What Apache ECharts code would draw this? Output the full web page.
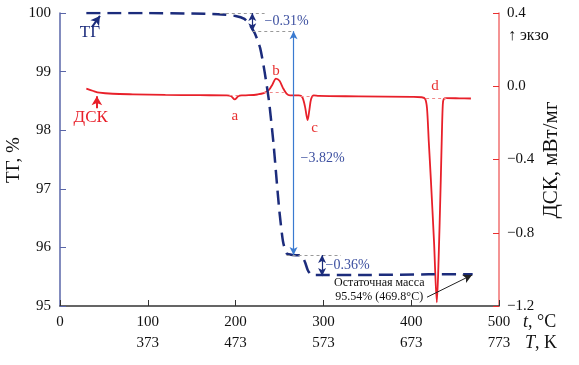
<!DOCTYPE html>
<html><head><meta charset="utf-8">
<script src="https://cdn.jsdelivr.net/npm/echarts@6/dist/echarts.min.js"></script>
<style>html,body{margin:0;padding:0;background:#fff}#c{width:579px;height:365px}</style>
</head><body><div id="c"></div>
<script>
// Temperature axis ticks (°C) and Kelvin equivalents
const xTicks = [0, 100, 200, 300, 400, 500];
const kTicks = [273, 373, 473, 573, 673, 773];
// TG curve (t °C, mass %)
const tgT = [30, 60, 100, 150, 180, 200, 210, 216, 222, 228, 233, 238, 243, 247, 250, 254, 258, 265, 275, 279, 282, 285, 290, 350, 420, 470];
const tgV = [100, 100, 100, 99.99, 99.98, 99.95, 99.9, 99.8, 99.65, 99.4, 99.0, 98.5, 97.8, 97.1, 96.6, 96.1, 95.9, 95.87, 95.86, 95.75, 95.62, 95.55, 95.53, 95.53, 95.54, 95.54];
// DSC curve (t °C, mW/mg)
const dscT = [30, 38, 45, 60, 83, 120, 159, 190, 195, 199, 203, 207, 215, 225, 232, 238, 242, 246, 250, 254, 258, 262, 268, 272, 276, 279, 282, 284, 286, 289, 295, 340, 401, 412, 416, 418, 420, 422.4, 426, 429.2, 431, 433.7, 435, 436, 437, 440, 455, 468];
const dscV = [-0.013, -0.026, -0.035, -0.041, -0.044, -0.047, -0.049, -0.05, -0.055, -0.072, -0.055, -0.05, -0.049, -0.045, -0.038, -0.02, 0.01, 0.042, 0.03, -0.01, -0.04, -0.05, -0.05, -0.05, -0.06, -0.11, -0.185, -0.13, -0.07, -0.05, -0.053, -0.055, -0.058, -0.06, -0.07, -0.12, -0.3, -0.51, -0.85, -1.18, -0.98, -0.51, -0.25, -0.1, -0.07, -0.065, -0.066, -0.067];
// Step annotations
const step1 = {t: 219, from: 100, to: 99.69, label: '−0.31%'};
const step2 = {t: 266, from: 99.69, to: 95.87, label: '−3.82%'};
const step3 = {t: 298.5, from: 95.87, to: 95.51, label: '−0.36%'};
const peakLabels = ['a', 'b', 'c', 'd'];
const peakPos = [[199, -0.165], [246, 0.085], [290, -0.23], [427, 0.0]];
const residual = ['Остаточная масса', '95.54% (469.8°C)'];

const NAVY = '#1c2c7c', RED = '#e8202a', SERIF = 'Liberation Serif';
const chart = echarts.init(document.getElementById('c'));
const zip = (a, b) => a.map((v, i) => [v, b[i]]);
const seg = (a, b) => [{coord: a}, {coord: b}];
const mlSeries = (yIdx, color, width, type, symbol, data, size) => ({type: 'line', yAxisIndex: yIdx, data: [],
  markLine: {silent: true, animation: false, label: {show: false}, symbol, symbolSize: size || [6, 8],
    lineStyle: {color, width, type}, data}});

chart.setOption({
  animation: false,
  grid: {left: 60, right: 80, top: 13, bottom: 59, containLabel: false},
  xAxis: {type: 'value', min: 0, max: 500, interval: 100,
    axisLine: {onZero: false, lineStyle: {color: '#333', width: 1.5}},
    axisTick: {inside: true, length: 6, lineStyle: {color: '#333'}},
    splitLine: {show: false},
    axisLabel: {fontFamily: SERIF, fontSize: 15, color: '#111', lineHeight: 21, margin: 6,
      formatter: v => { const i = xTicks.indexOf(v); return v === 0 ? '0\n ' : v + '\n' + kTicks[i]; }}
  },
  yAxis: [
    {type: 'value', min: 95, max: 100, interval: 1, position: 'left',
      axisLine: {show: true, onZero: false, lineStyle: {color: '#5a66a8', width: 1.5}},
      axisTick: {show: true, inside: true, length: 6, lineStyle: {color: '#5a66a8'}},
      splitLine: {show: false},
      axisLabel: {fontFamily: SERIF, fontSize: 15, color: '#111', margin: 9}},
    {type: 'value', min: -1.2, max: 0.4, interval: 0.4, position: 'right',
      axisLine: {show: true, onZero: false, lineStyle: {color: '#f07070', width: 1.5}},
      axisTick: {show: true, inside: true, length: 6, lineStyle: {color: '#e83030'}},
      splitLine: {show: false},
      axisLabel: {fontFamily: SERIF, fontSize: 15, color: '#111', margin: 8,
        formatter: v => Math.abs(v) < 1e-9 ? '0.0' : (v < 0 ? '−' : '') + Math.abs(v).toFixed(1)}}
  ],
  series: [
    {type: 'line', yAxisIndex: 1, data: zip(dscT, dscV), smooth: 0.3, symbol: 'none',
      lineStyle: {color: RED, width: 1.8}, z: 3},
    {type: 'line', yAxisIndex: 0, data: zip(tgT, tgV), smooth: 0.2, symbol: 'none',
      lineStyle: {color: NAVY, width: 2.5, type: [14, 7]}, z: 4},
    mlSeries(1, '#f08888', 1, [3, 3], 'none', [
      seg([193, -0.05], [205, -0.05]), seg([232, -0.031], [255, -0.031]),
      seg([274, -0.053], [288, -0.053]), seg([417, -0.067], [440, -0.067])]),
    mlSeries(0, '#999', 1, [3, 3], 'none', [
      seg([182, 100], [233, 100]), seg([219, 99.69], [266, 99.69]), seg([258, 95.87], [320, 95.87])]),
    mlSeries(0, '#3a7ad0', 1.2, 'solid', ['arrow', 'arrow'], [seg([step2.t, step2.from], [step2.t, step2.to])]),
    mlSeries(0, NAVY, 1.2, 'solid', ['arrow', 'arrow'], [
      seg([step1.t, step1.from], [step1.t, step1.to]), seg([step3.t, step3.from], [step3.t, step3.to])]),
    mlSeries(0, NAVY, 2, 'solid', ['none', 'arrow'], [seg([36.4, 99.76], [45.5, 99.95])], [8, 9]),
    mlSeries(0, '#222', 1, 'solid', ['none', 'arrow'], [seg([418, 95.15], [469.3, 95.53])], [7, 9]),
    mlSeries(1, RED, 2, 'solid', ['none', 'arrow'], [seg([42, -0.12], [42, -0.055])], [8, 9])
  ]
});

const P = (t, v, ax) => chart.convertToPixel(ax === 1 ? {xAxisIndex: 0, yAxisIndex: 1} : {xAxisIndex: 0, yAxisIndex: 0}, [t, v]);
const txt = (pos, text, o) => Object.assign({type: 'text', x: pos[0], y: pos[1],
  style: Object.assign({text, fontFamily: SERIF, fontSize: 14, fill: '#111', align: 'center', verticalAlign: 'middle'}, o || {})});
const g = [];
peakLabels.forEach((l, i) => g.push(txt(P(peakPos[i][0], peakPos[i][1], 1), l, {fill: '#e83030', fontSize: 15})));
g.push(txt(P(233, 99.85, 0), step1.label, {fill: '#3d50a0', fontSize: 14, align: 'left'}));
g.push(txt(P(step2.t + 8, 97.52, 0), step2.label, {fill: '#3d50a0', fontSize: 14, align: 'left'}));
g.push(txt(P(step3.t + 4, 95.69, 0), step3.label, {fill: '#3d50a0', fontSize: 14, align: 'left'}));
g.push(txt(P(363.6, 95.39, 0), residual[0], {fontSize: 12}));
g.push(txt(P(363.6, 95.15, 0), residual[1], {fontSize: 12}));
g.push(txt(P(34, 99.66, 0), 'ТГ', {fill: NAVY, fontSize: 17}));
g.push(txt(P(35, -0.17, 1), 'ДСК', {fill: RED, fontSize: 17}));
g.push({type: 'text', x: 14, y: 160, rotation: Math.PI / 2,
  style: {text: 'ТГ, %', fontFamily: SERIF, fontSize: 19, fill: '#111', align: 'center', verticalAlign: 'middle'}});
g.push({type: 'text', x: 551, y: 160, rotation: Math.PI / 2,
  style: {text: 'ДСК, мВт/мг', fontFamily: SERIF, fontSize: 21, fill: '#111', align: 'center', verticalAlign: 'middle'}});
g.push({type: 'text', x: 508, y: 36, style: {text: '↑ экзо', fontFamily: SERIF, fontSize: 16, fill: '#111', verticalAlign: 'middle'}});
g.push({type: 'text', x: 523, y: 322, style: {text: '{i|t}, °C', fontFamily: SERIF, fontSize: 18, fill: '#111', verticalAlign: 'middle',
  rich: {i: {fontStyle: 'italic', fontFamily: SERIF, fontSize: 18}}}});
g.push({type: 'text', x: 525, y: 343, style: {text: '{i|T}, K', fontFamily: SERIF, fontSize: 18, fill: '#111', verticalAlign: 'middle',
  rich: {i: {fontStyle: 'italic', fontFamily: SERIF, fontSize: 18}}}});
chart.setOption({graphic: g});
</script></body></html>
